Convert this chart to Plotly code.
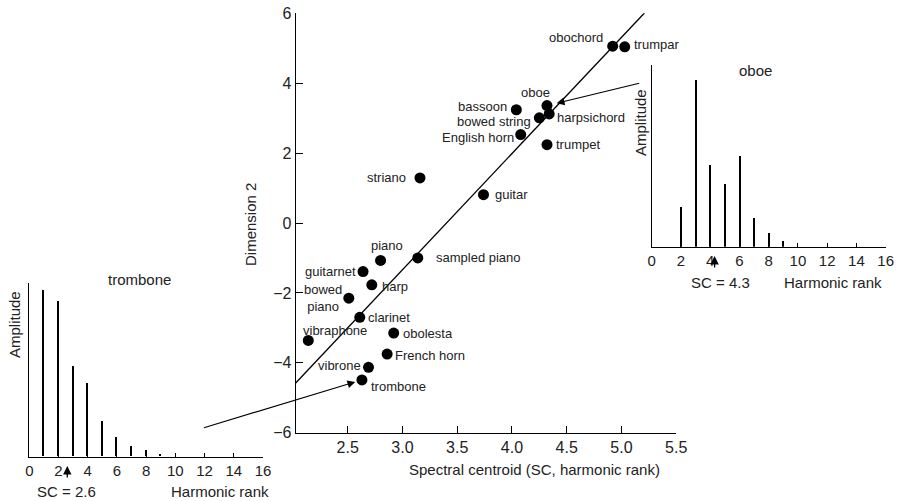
import plotly.graph_objects as go

# ---- timbre space: spectral centroid vs. second MDS dimension ----
instruments = [
    "obochord", "trumpar", "oboe", "bassoon", "bowed string", "harpsichord",
    "English horn", "trumpet", "striano", "guitar", "sampled piano", "piano",
    "guitarnet", "harp", "bowed<br>piano", "clarinet", "vibraphone", "obolesta",
    "French horn", "vibrone", "trombone",
]
spectral_centroid = [
    4.92, 5.03, 4.32, 4.04, 4.25, 4.34,
    4.08, 4.32, 3.16, 3.74, 3.14, 2.80,
    2.64, 2.72, 2.51, 2.61, 2.14, 2.92,
    2.86, 2.69, 2.63,
]
dimension2 = [
    5.06, 5.04, 3.36, 3.24, 3.01, 3.12,
    2.53, 2.24, 1.29, 0.81, -1.00, -1.07,
    -1.39, -1.77, -2.15, -2.70, -3.36, -3.15,
    -3.75, -4.13, -4.49,
]

# regression line end points
fit_x = [1.98, 5.21]
fit_y = [-4.73, 6.01]

# ---- harmonic spectra of two example tones ----
harmonic_rank = [1, 2, 3, 4, 5, 6, 7, 8, 9]
oboe_amplitude = [0.0, 0.217, 0.917, 0.448, 0.345, 0.499, 0.160, 0.074, 0.033]
trombone_amplitude = [0.961, 0.898, 0.521, 0.423, 0.202, 0.111, 0.058, 0.039, 0.016]
oboe_sc = 4.3
trombone_sc = 2.6
rank_ticks = [0, 2, 4, 6, 8, 10, 12, 14, 16]

W, H = 901, 501
FONT = "Liberation Sans, Arial, Helvetica, sans-serif"
INK = "#222222"


def fx(p):
    return p / W


def fy(p):
    return 1 - p / H


# label placement (pixel offsets from each dot)
label_style = {
    "obochord": ("right", -8, 9),
    "trumpar": ("left", 7, 2),
    "oboe": ("center", -11, 13),
    "bassoon": ("right", -7, 3),
    "bowed string": ("right", -6, -4),
    "harpsichord": ("left", 6, -4),
    "English horn": ("right", -5, -3),
    "trumpet": ("left", 7, 0),
    "striano": ("right", -12, 0),
    "guitar": ("left", 10, 0),
    "sampled piano": ("left", 16, 0),
    "piano": ("center", 6, 15),
    "guitarnet": ("right", -5, 0),
    "harp": ("left", 8, -2),
    "bowed<br>piano": ("right", -5, 0),
    "clarinet": ("left", 6, 0),
    "vibraphone": ("left", -7, 10),
    "obolesta": ("left", 7, 0),
    "French horn": ("left", 6, -1),
    "vibrone": ("right", -6, 2),
    "trombone": ("left", 7, -7),
}

fig = go.Figure()

fig.add_trace(go.Scatter(
    x=fit_x, y=fit_y, mode="lines",
    line=dict(color="black", width=1.3),
    xaxis="x", yaxis="y", hoverinfo="skip",
))
fig.add_trace(go.Scatter(
    x=spectral_centroid, y=dimension2, mode="markers",
    marker=dict(color="black", size=11),
    xaxis="x", yaxis="y", text=instruments,
))

fig.add_trace(go.Bar(
    x=harmonic_rank, y=oboe_amplitude, width=0.09,
    marker=dict(color="black", line=dict(width=0)),
    xaxis="x2", yaxis="y2",
))
fig.add_trace(go.Bar(
    x=harmonic_rank, y=trombone_amplitude, width=0.09,
    marker=dict(color="black", line=dict(width=0)),
    xaxis="x3", yaxis="y3",
))

annotations = []
for name, xv, yv in zip(instruments, spectral_centroid, dimension2):
    anchor, dx, dy = label_style[name]
    annotations.append(dict(
        x=xv, y=yv, xref="x", yref="y", text=name, showarrow=False,
        xanchor=anchor, yanchor="middle", xshift=dx, yshift=dy,
        align="center", font=dict(size=13, color=INK, family=FONT),
    ))

# arrows from the spectra to their tones in the timbre space
i_oboe = instruments.index("oboe")
i_tromb = instruments.index("trombone")
annotations.append(dict(
    x=spectral_centroid[i_oboe], y=dimension2[i_oboe], xref="x", yref="y",
    ax=5.176, ay=4.01, axref="x", ayref="y", text="", showarrow=True,
    arrowhead=2, arrowsize=1.3, arrowwidth=1.2, arrowcolor="black", standoff=10,
))
annotations.append(dict(
    x=spectral_centroid[i_tromb], y=dimension2[i_tromb], xref="x", yref="y",
    ax=1.173, ay=-5.87, axref="x", ayref="y", text="", showarrow=True,
    arrowhead=2, arrowsize=1.3, arrowwidth=1.2, arrowcolor="black", standoff=7,
))

# spectral centroid pointers under each spectrum
annotations.append(dict(
    x=oboe_sc, y=fy(256), xref="x2", yref="paper", ax=0, ay=13,
    text="", showarrow=True, arrowhead=2, arrowsize=1.3, arrowwidth=1.3,
    arrowcolor="black",
))
annotations.append(dict(
    x=trombone_sc, y=fy(466), xref="x3", yref="paper", ax=0, ay=13,
    text="", showarrow=True, arrowhead=2, arrowsize=1.3, arrowwidth=1.3,
    arrowcolor="black",
))


def txt(x, y, s, size=15, angle=0):
    annotations.append(dict(
        x=fx(x), y=fy(y), xref="paper", yref="paper", text=s, showarrow=False,
        xanchor="center", yanchor="middle", textangle=angle,
        font=dict(size=size, color=INK, family=FONT),
    ))


txt(534, 469, "Spectral centroid (SC, harmonic rank)")
txt(250, 224, "Dimension 2", angle=-90)

txt(755, 70, "oboe")
txt(640, 123, "Amplitude", angle=-90)
txt(720, 282, f"SC = {oboe_sc}")
txt(833, 282, "Harmonic rank")

txt(139, 279, "trombone")
txt(14, 325, "Amplitude", angle=-90)
txt(66, 491, f"SC = {trombone_sc}")
txt(220, 491, "Harmonic rank")

axis_common = dict(
    showgrid=False, zeroline=False, showline=True, linecolor="black",
    linewidth=1.2, ticks="inside", tickcolor="black", tickwidth=1.2,
    fixedrange=True, automargin=False,
)

fig.update_layout(
    width=W, height=H, autosize=False,
    margin=dict(l=0, r=0, t=0, b=0, pad=0, autoexpand=False),
    paper_bgcolor="white", plot_bgcolor="white",
    showlegend=False, bargap=0,
    font=dict(family=FONT, color=INK),
    xaxis=dict(
        domain=[fx(295.7), fx(676.2)], range=[2.025, 5.5], anchor="y",
        tickvals=[2.5, 3.0, 3.5, 4.0, 4.5, 5.0, 5.5], tickformat=".1f",
        ticklen=7, tickfont=dict(size=16, color=INK), **axis_common,
    ),
    yaxis=dict(
        domain=[fy(432.7), fy(13.3)], range=[-6, 6], anchor="x",
        tickvals=[-6, -4, -2, 0, 2, 4, 6], ticklen=7,
        tickfont=dict(size=16, color=INK), **axis_common,
    ),
    xaxis2=dict(
        domain=[fx(651.7), fx(885.7)], range=[0, 16], anchor="y2",
        tickvals=rank_ticks, ticklen=4, tickfont=dict(size=15, color=INK),
        **axis_common,
    ),
    yaxis2=dict(
        domain=[fy(246.7), fy(65)], range=[0, 1], anchor="x2",
        showticklabels=False, showgrid=False, zeroline=False, showline=True,
        linecolor="black", linewidth=1.2, ticks="", fixedrange=True,
        automargin=False,
    ),
    xaxis3=dict(
        domain=[fx(29.3), fx(263.0)], range=[0, 16], anchor="y3",
        tickvals=rank_ticks, ticklen=4, tickfont=dict(size=15, color=INK),
        **axis_common,
    ),
    yaxis3=dict(
        domain=[fy(456.7), fy(283.3)], range=[0, 1], anchor="x3",
        showticklabels=False, showgrid=False, zeroline=False, showline=True,
        linecolor="black", linewidth=1.2, ticks="", fixedrange=True,
        automargin=False,
    ),
    annotations=annotations,
)

fig.write_html(
    "out.html",
    config={"displayModeBar": False, "responsive": False},
    post_script="document.body.style.margin='0';",
)
